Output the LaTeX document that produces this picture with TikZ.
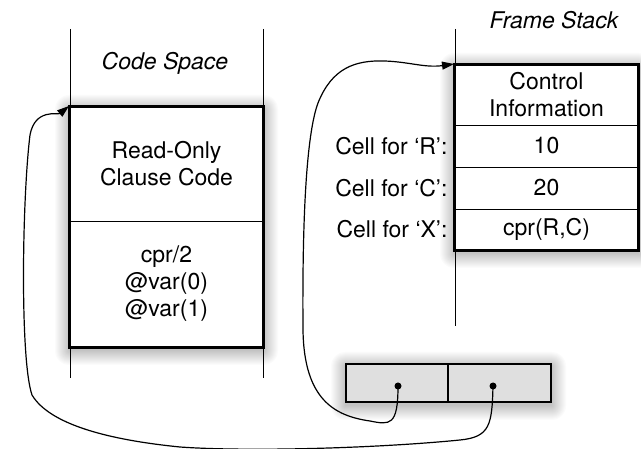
\documentclass[tikz,border=0pt]{standalone}
\usepackage{fontspec}
\setmainfont{TeX Gyre Heros}
\usetikzlibrary{arrows.meta}
\pgfdeclarelayer{shadowlayer}
\pgfsetlayers{shadowlayer,main}
\newcommand\myshadow[2]{%
  \begin{pgfonlayer}{shadowlayer}
  \foreach \k in {0,...,14}{
    \fill[black, opacity=0.016, rounded corners=\k pt]
      ([xshift=-\k pt, yshift=-3pt+\k pt]#1) rectangle
      ([xshift=\k pt, yshift=-3pt-\k pt]#2);
  }
  \end{pgfonlayer}}
\tikzset{
  txt/.style={font=\fontsize{23}{27}\selectfont},
  ttl/.style={font=\fontsize{23}{27}\selectfont\itshape},
  vline/.style={line width=1pt},
  shbox/.style={draw, line width=2pt, fill=white, inner sep=0pt},
  cellbox/.style={draw, line width=0.9pt, inner sep=0pt, align=center, txt},
  graybox/.style={draw, line width=2pt, fill=gray!25, inner sep=0pt},
  dotmark/.style={circle, fill=black, inner sep=0pt, minimum size=7pt},
  conn/.style={line width=1.2pt, -{Triangle[length=12pt,width=8pt]}}
}
\begin{document}
\begin{tikzpicture}[x=1pt,y=-1pt]
\begin{pgfonlayer}{shadowlayer}
\fill[white] (0,0) rectangle (641,449);
\end{pgfonlayer}
\useasboundingbox (0,0) rectangle (641,449);

% titles
\node[ttl] (cs) at (165,63) {Code Space};
\node[ttl] (fs) at (554,20) {Frame Stack};

% code space box
\node[shbox, minimum width=193pt, minimum height=240pt] (codebox) at (166.5,227) {};
\node[cellbox, minimum width=193pt, minimum height=114pt] (ro) at (166.5,164) {Read-Only\\Clause Code};
\node[cellbox, minimum width=193pt, minimum height=126pt] (cc) at (166.5,284) {cpr/2\\@var(0)\\@var(1)};
\draw[line width=2pt] (codebox.north west) rectangle (codebox.south east);
\myshadow{codebox.north west}{codebox.south east}

% frame stack
\node[shbox, minimum width=183pt, minimum height=185pt] (frame) at (546.5,157.5) {};
\node[cellbox, minimum width=183pt, minimum height=60pt] (ctrl) at (546.5,95) {Control\\Information};
\node[cellbox, minimum width=183pt, minimum height=42pt] (r1) at (546.5,146) {10};
\node[cellbox, minimum width=183pt, minimum height=42pt] (r2) at (546.5,188) {20};
\node[cellbox, minimum width=183pt, minimum height=41pt] (r3) at (546.5,229.5) {cpr(R,C)};
\draw[line width=2pt] (frame.north west) rectangle (frame.south east);
\myshadow{frame.north west}{frame.south east}

% vertical lines
\coordinate (v1t) at (70,29);  \coordinate (v1b) at (70,378);
\coordinate (v2t) at (263,29); \coordinate (v2b) at (263,378);
\coordinate (v3t) at (455,29); \coordinate (v3b) at (455,326);
\draw[vline] (v1t) -- (v1b);
\draw[vline] (v2t) -- (v2b);
\draw[vline] (v3t) -- (v3b);

% labels
\node[txt, anchor=east] (lR) at (451,146) {Cell for ‘R’:};
\node[txt, anchor=east] (lC) at (451,188) {Cell for ‘C’:};
\node[txt, anchor=east] (lX) at (451,229.5) {Cell for ‘X’:};

% bottom cons cell
\node[graybox, minimum width=102pt, minimum height=38pt] (ca) at (397,383) {};
\node[graybox, minimum width=103pt, minimum height=38pt] (cb) at (499.5,383) {};
\myshadow{ca.north west}{cb.south east}
\node[dotmark] (d1) at (398,386) {};
\node[dotmark] (d2) at (493,386) {};

% connectors
\draw[conn] (d1.center) .. controls (398,426) and (390,425) .. (370,421)
  .. controls (335,416) and (304,400) .. (303,330)
  .. controls (302,200) and (308,130) .. (318,103)
  .. controls (332,68) and (355,60) .. (385,61)
  .. controls (410,62) and (425,68) .. (frame.north west);
\draw[conn] (d2.center) .. controls (492,425) and (490,437) .. (460,440)
  .. controls (380,448) and (250,452) .. (180,447)
  .. controls (110,440) and (50,425) .. (32,395)
  .. controls (20,360) and (22,200) .. (30,135)
  .. controls (35,108) and (58,115) .. (codebox.north west);
\end{tikzpicture}
\end{document}
